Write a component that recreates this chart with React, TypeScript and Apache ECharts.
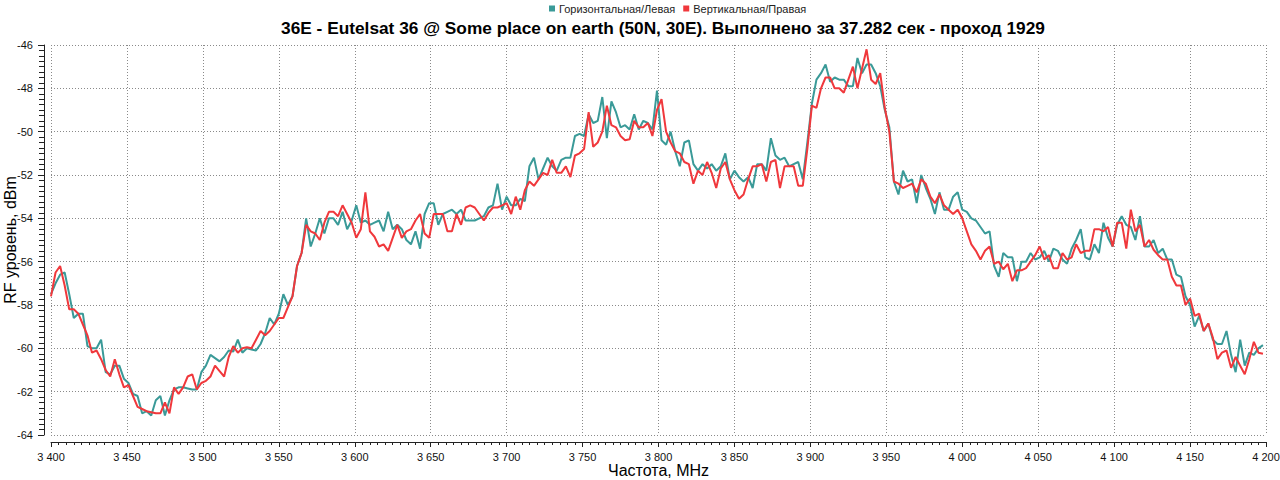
import React, { useEffect, useRef } from "react";
import * as echarts from "echarts";

const TITLE = "36E - Eutelsat 36 @ Some place on earth (50N, 30E). Выполнено за 37.282 сек - проход 1929";
const SERIES_NAMES = ["Горизонтальная/Левая", "Вертикальная/Правая"];
const X_NAME = "Частота, MHz";
const Y_NAME = "RF уровень, dBm";

const FREQ_START = 3400;
const FREQ_STEP = 3;

const LEVEL_H = [
  -57.5, -57.0, -56.6, -56.5, -57.5, -58.6, -58.4, -58.4, -59.9, -60.0,
  -60.0, -59.6, -61.1, -61.2, -60.8, -60.8, -61.4, -61.6, -62.1, -62.2,
  -63.0, -62.9, -63.1, -62.4, -62.2, -63.1, -62.4, -61.9, -61.8, -61.8,
  -61.85, -61.9, -61.9, -61.1, -60.8, -60.3, -60.45, -60.6, -60.4, -60.1,
  -60.15, -59.6, -60.2, -60.0, -60.05, -60.1, -59.8, -59.3, -58.6, -58.9,
  -58.4, -57.5, -58.0, -57.6, -56.2, -55.6, -54.0, -55.3, -54.7, -54.0,
  -54.7, -54.0, -54.0, -54.3, -53.7, -54.5, -54.1, -53.4, -54.2, -54.1,
  -54.3, -54.2, -54.1, -54.6, -53.7, -54.5, -54.3, -54.5, -55.0, -55.2,
  -54.6, -55.4, -53.8, -53.3, -53.3, -54.3, -53.8, -53.7, -53.6, -53.8,
  -53.6, -54.1, -54.1, -54.1, -54.0, -53.9, -53.5, -53.4, -52.4, -53.6,
  -53.0, -53.4, -53.4, -53.1, -53.2, -51.6, -51.2, -52.2, -51.7, -51.2,
  -51.6, -51.8, -51.3, -51.2, -51.2, -50.2, -50.1, -50.2, -49.2, -49.6,
  -49.5, -48.4, -50.3, -48.6, -49.1, -49.8, -49.7, -49.9, -49.2, -49.9,
  -49.5, -49.6, -49.9, -48.1, -50.4, -50.6, -50.0, -50.9, -51.6, -50.5,
  -50.4, -51.5, -51.8, -51.5, -51.7, -51.5, -51.8, -51.6, -51.0, -52.2,
  -51.8, -52.1, -52.3, -52.1, -52.6, -51.5, -51.5, -51.8, -50.3, -51.1,
  -51.3, -51.2, -51.6, -51.5, -51.4, -52.2, -50.5, -48.7, -47.6, -47.3,
  -46.9, -47.7, -47.5, -47.6, -47.6, -47.9, -47.9, -46.6, -47.3, -46.9,
  -46.9, -47.3, -47.9, -49.0, -49.8, -52.3, -52.9, -51.8, -52.3, -52.2,
  -53.3, -52.0, -52.6, -53.1, -53.8, -52.8, -53.6, -53.6, -53.0, -52.8,
  -53.6, -53.7, -54.0, -54.1, -54.4, -54.7, -54.6, -56.2, -56.7, -55.6,
  -55.8, -55.8, -56.9, -56.0, -56.0, -55.6, -55.9, -55.8, -55.5, -56.0,
  -55.4, -55.5, -55.9, -56.1, -55.4, -55.0, -54.5, -55.8, -55.9, -55.2,
  -55.6, -54.2, -54.9, -55.3, -54.3, -53.9, -54.3, -54.4, -55.0, -53.9,
  -55.3, -55.3, -55.0, -55.6, -55.4, -55.9, -55.9, -56.6, -56.7, -57.6,
  -58.0, -59.0, -58.5, -59.2, -58.85, -59.6, -59.8, -59.8, -59.2, -60.3,
  -61.1, -59.6, -60.8, -60.2, -60.3, -60.0, -59.85,
];

const LEVEL_V = [
  -57.6, -56.5, -56.2, -57.1, -58.2, -58.2, -58.4, -58.9, -59.4, -60.2,
  -60.1, -60.5, -61.0, -61.3, -60.5, -61.2, -61.8, -61.7, -62.2, -62.7,
  -62.8, -62.9, -62.95, -63.0, -63.0, -62.5, -63.0, -61.8, -62.1, -61.8,
  -61.3, -61.2, -61.9, -61.6, -61.5, -61.3, -60.8, -61.05, -61.3, -60.4,
  -59.9, -60.2, -60.0, -59.95, -60.0, -59.6, -59.2, -59.4, -59.2, -58.9,
  -58.6, -58.6, -58.1, -57.6, -56.2, -55.6, -54.3, -54.6, -54.7, -55.0,
  -54.2, -53.7, -53.7, -53.9, -53.4, -53.8, -54.2, -54.9, -54.5, -52.8,
  -54.6, -54.85, -55.3, -55.2, -55.5, -54.9, -54.3, -54.9, -54.6, -54.5,
  -54.1, -53.8, -54.7, -54.9, -53.8, -53.8, -53.8, -54.6, -54.6, -53.8,
  -54.3, -53.5, -53.4, -53.5, -53.8, -54.1, -53.75, -53.5, -53.5, -53.4,
  -53.3, -53.8, -53.0, -53.6, -52.7, -52.3, -52.5, -52.2, -51.9, -52.0,
  -51.3, -51.9, -51.9, -51.6, -52.1, -51.1, -51.0, -50.8, -49.1, -50.7,
  -50.5, -50.0, -48.8, -49.7, -49.8, -50.2, -50.4, -50.35, -49.5, -49.8,
  -49.8, -49.6, -50.2, -49.0, -48.5, -50.0, -50.5, -50.9, -51.0, -51.4,
  -51.5, -52.4, -51.8, -52.0, -51.4, -51.9, -52.6, -51.7, -51.4, -52.2,
  -52.7, -53.1, -52.9, -52.2, -51.6, -51.6, -51.5, -52.3, -51.4, -51.3,
  -52.6, -51.6, -51.6, -51.6, -52.5, -52.5, -50.8, -48.8, -48.9, -48.0,
  -47.5, -47.5, -48.0, -48.0, -48.2, -47.6, -47.0, -48.0, -47.1, -46.2,
  -47.6, -47.8, -47.3, -48.9, -50.0, -52.3, -52.4, -52.6, -52.5, -52.4,
  -52.8, -52.2, -52.4, -53.0, -53.3, -52.9, -53.4, -53.6, -53.8, -53.6,
  -54.0, -54.6, -55.2, -55.5, -55.9, -55.5, -55.3, -56.1, -56.0, -56.35,
  -56.1, -56.9, -56.4, -56.4, -56.3, -56.0, -55.7, -55.3, -55.9, -55.7,
  -56.3, -56.3, -55.6, -55.9, -55.8, -55.2, -55.6, -55.5, -55.5, -54.5,
  -54.5, -54.6, -54.4, -55.3, -54.2, -54.2, -55.4, -53.6, -54.6, -54.3,
  -55.3, -55.0, -55.45, -55.7, -55.9, -55.9, -56.7, -57.1, -57.1, -58.0,
  -57.7, -58.5, -58.4, -59.2, -58.85, -59.5, -60.5, -60.2, -60.1, -60.9,
  -60.4, -60.8, -61.2, -60.5, -59.7, -60.2, -60.25,
];

const X_MIN = 3400;
const X_MAX = 4200;
const X_INTERVAL = 50;
const Y_MIN = -64;
const Y_MAX = -46;
const Y_INTERVAL = 2;

const COLORS = ["#3a9a98", "#f0383c"];

const toPairs = (levels: number[]) =>
  levels.map((v, i) => [FREQ_START + i * FREQ_STEP, v]);

const fmtThousands = (v: number) =>
  String(v).replace(/\B(?=(\d{3})+(?!\d))/g, " ");

const FONT = "'Liberation Sans', Arial, sans-serif";

export default function App() {
  const ref = useRef<HTMLDivElement | null>(null);

  useEffect(() => {
    if (!ref.current) return;
    const chart = echarts.init(ref.current, null, { renderer: "svg" });
    const axisColor = "#222";
    const gridLine = { show: true, lineStyle: { color: "#8a8a8a", width: 1, type: [1, 2] as any } };
    chart.setOption({
      animation: false,
      backgroundColor: "#ffffff",
      color: COLORS,
      textStyle: { fontFamily: FONT },
      graphic: [
        {
          type: "text",
          x: 663,
          y: 28,
          style: {
            text: TITLE,
            font: "bold 17.3px 'Liberation Sans', Arial, sans-serif",
            fill: "#000",
            align: "center",
            verticalAlign: "middle",
          },
        },
      ],
      legend: {
        left: 549,
        top: 3,
        padding: 0,
        itemGap: 8,
        itemWidth: 6,
        itemHeight: 6,
        icon: "rect",
        textStyle: { fontFamily: FONT, fontSize: 11, color: "#222", padding: [0, 0, 0, -1] },
        data: SERIES_NAMES,
      },
      grid: {
        left: 51,
        right: 14,
        top: 45,
        bottom: 45,
        containLabel: false,
        outerBoundsMode: "none",
      },
      xAxis: {
        type: "value",
        min: X_MIN,
        max: X_MAX,
        interval: X_INTERVAL,
        offset: 7,
        name: X_NAME,
        nameLocation: "middle",
        nameGap: 20,
        nameMoveOverlap: false,
        nameTextStyle: { fontFamily: FONT, fontSize: 16, color: "#000" },
        axisLine: { show: true, onZero: false, lineStyle: { color: axisColor, width: 1 } },
        axisTick: { show: true, inside: false, length: 5, lineStyle: { color: axisColor } },
        minorTick: { show: true, splitNumber: 10, length: 3, lineStyle: { color: axisColor } },
        axisLabel: {
          margin: 9,
          fontFamily: FONT,
          fontSize: 11,
          color: "#111",
          formatter: (v: number) => fmtThousands(v),
        },
        splitLine: gridLine,
        minorSplitLine: { show: false },
      },
      yAxis: {
        type: "value",
        min: Y_MIN,
        max: Y_MAX,
        interval: Y_INTERVAL,
        offset: 7,
        name: Y_NAME,
        nameLocation: "middle",
        nameGap: 26,
        nameMoveOverlap: false,
        nameTextStyle: { fontFamily: FONT, fontSize: 16, color: "#000" },
        axisLine: { show: true, onZero: false, lineStyle: { color: axisColor, width: 1 } },
        axisTick: { show: true, inside: false, length: 6, lineStyle: { color: axisColor } },
        minorTick: { show: true, splitNumber: 8, length: 5, lineStyle: { color: axisColor } },
        axisLabel: { margin: 11, fontFamily: FONT, fontSize: 11, color: "#111" },
        splitLine: gridLine,
        minorSplitLine: { show: false },
      },
      series: [
        {
          name: SERIES_NAMES[0],
          type: "line",
          data: toPairs(LEVEL_H),
          showSymbol: false,
          symbol: "none",
          lineStyle: { width: 2, color: COLORS[0] },
          itemStyle: { color: COLORS[0] },
        },
        {
          name: SERIES_NAMES[1],
          type: "line",
          data: toPairs(LEVEL_V),
          showSymbol: false,
          symbol: "none",
          lineStyle: { width: 2, color: COLORS[1] },
          itemStyle: { color: COLORS[1] },
        },
      ],
    });
    return () => chart.dispose();
  }, []);

  return (
    <div
      ref={ref}
      style={{ position: "fixed", left: 0, top: 0, width: 1280, height: 480, background: "#fff" }}
    />
  );
}
